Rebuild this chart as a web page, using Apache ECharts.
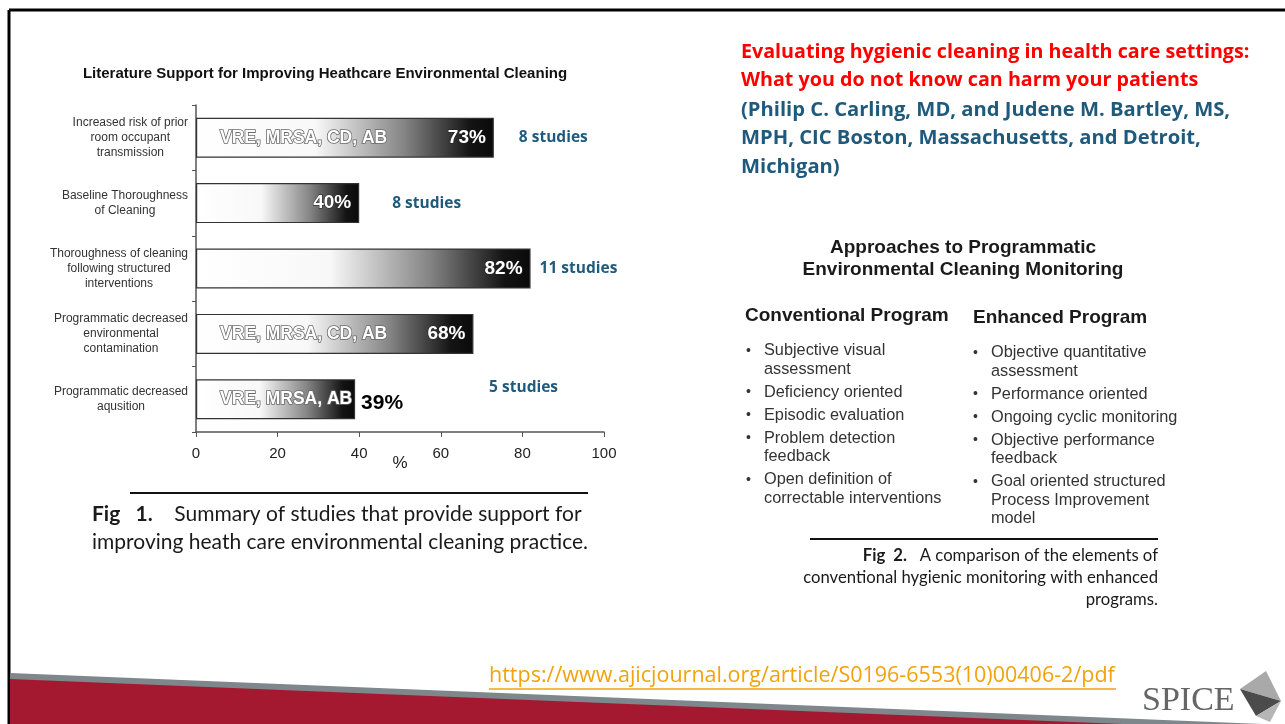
<!DOCTYPE html>
<html>
<head>
<meta charset="utf-8">
<script src="https://cdn.jsdelivr.net/npm/echarts@6/dist/echarts.min.js"></script>
<style>
  html, body { margin: 0; padding: 0; background: #fff; }
  #chart { width: 1285px; height: 724px; }
</style>
</head>
<body>
<div id="chart"></div>
<script>
// ---- chart data ----
var categories = [
    'Increased risk of prior\nroom occupant\ntransmission',
    'Baseline Thoroughness\nof Cleaning',
    'Thoroughness of cleaning\nfollowing structured\ninterventions',
    'Programmatic decreased\nenvironmental\ncontamination',
    'Programmatic decreased\naqusition'
];
var percentValues = [73, 40, 82, 68, 39];
var organisms = ['VRE, MRSA, CD, AB', '', '', 'VRE, MRSA, CD, AB', 'VRE, MRSA, AB'];
var studyCounts = [8, 8, 11, null, 5];
var xTickLabels = [0, 20, 40, 60, 80, 100];

// ---- slide texts ----
var paperTitle = ['Evaluating hygienic cleaning in health care settings:', 'What you do not know can harm your patients'];
var paperAuthors = ['(Philip C. Carling, MD, and Judene M. Bartley, MS,', 'MPH, CIC Boston, Massachusetts, and Detroit,', 'Michigan)'];
var conventionalItems = ['Subjective visual\nassessment', 'Deficiency oriented', 'Episodic evaluation',
    'Problem detection\nfeedback', 'Open definition of\ncorrectable interventions'];
var enhancedItems = ['Objective quantitative\nassessment', 'Performance oriented', 'Ongoing cyclic monitoring',
    'Objective performance\nfeedback', 'Goal oriented structured\nProcess Improvement\nmodel'];
var sourceUrl = 'https://www.ajicjournal.org/article/S0196-6553(10)00406-2/pdf';

(function() {
    "use strict";

    var ARIAL = "'Liberation Sans', Arial, sans-serif";
    var CALIBRI = "'Open Sans', sans-serif";
    var GILL = "Lato, sans-serif";
    var TEAL = '#1f5a7c';

    var chart = echarts.init(document.getElementById('chart'), null, {renderer: 'canvas'});

    // gap between bar end and the "n studies" note
    var studyGap = [25, 33, 9, 0, 134];
    var studyShift = [0, 0, 0, 0, -12];

    var barGradient = new echarts.graphic.LinearGradient(0, 0, 1, 0, [
        {offset: 0, color: '#ffffff'},
        {offset: 0.4, color: '#f8f8f8'},
        {offset: 0.7, color: '#848484'},
        {offset: 0.92, color: '#141414'},
        {offset: 1, color: '#0a0a0a'}
    ]);

    // ---- graphic: frame, texts, footer ----
    var graphics = [];

    // slide frame
    graphics.push({type: 'line', shape: {x1: 9, y1: 10, x2: 1285, y2: 10}, style: {stroke: '#000', lineWidth: 3}});
    graphics.push({type: 'line', shape: {x1: 9, y1: 10, x2: 9, y2: 724}, style: {stroke: '#000', lineWidth: 3}});

    // footer bands
    graphics.push({type: 'polygon', shape: {points: [[10, 673], [1262, 724], [10, 724]]}, style: {fill: '#7d878c'}});
    graphics.push({type: 'polygon', shape: {points: [[10, 679], [1122, 724], [10, 724]]}, style: {fill: '#a51930'}});

    // paper reference (top right)
    paperTitle.forEach(function(t, i) {
        graphics.push({type: 'text', x: 741, y: 52 + i * 28.5,
            style: {text: t, font: 'bold 19.7px ' + CALIBRI, fill: '#ff0000', textVerticalAlign: 'middle'}});
    });
    paperAuthors.forEach(function(t, i) {
        graphics.push({type: 'text', x: 741, y: 110 + i * 28.5,
            style: {text: t, font: 'bold 20.2px ' + CALIBRI, fill: TEAL, textVerticalAlign: 'middle'}});
    });

    // chart title
    graphics.push({type: 'text', x: 325, y: 74,
        style: {text: 'Literature Support for Improving Heathcare Environmental Cleaning',
            font: 'bold 15px ' + ARIAL, fill: '#111', textAlign: 'center', textVerticalAlign: 'middle'}});

    // Fig 1 caption
    graphics.push({type: 'line', shape: {x1: 130, y1: 493, x2: 588, y2: 493}, style: {stroke: '#111', lineWidth: 2}});
    graphics.push({type: 'text', x: 92, y: 500,
        style: {
            text: '{b|Fig   1.}    Summary of studies that provide support for\nimproving heath care environmental cleaning practice.',
            font: '21px ' + GILL, fill: '#1a1a1a', lineHeight: 28,
            rich: {b: {font: 'bold 21px ' + GILL, fill: '#1a1a1a', lineHeight: 28}}
        }});

    // Fig 2 block
    graphics.push({type: 'text', x: 963, y: 259,
        style: {text: 'Approaches to Programmatic\nEnvironmental Cleaning Monitoring', font: 'bold 19px ' + ARIAL,
            fill: '#1a1a1a', textAlign: 'center', textVerticalAlign: 'middle', lineHeight: 22}});
    graphics.push({type: 'text', x: 745, y: 316,
        style: {text: 'Conventional Program', font: 'bold 19px ' + ARIAL, fill: '#1a1a1a', textVerticalAlign: 'middle'}});
    graphics.push({type: 'text', x: 973, y: 318,
        style: {text: 'Enhanced Program', font: 'bold 19px ' + ARIAL, fill: '#1a1a1a', textVerticalAlign: 'middle'}});

    function bulletList(items, xBullet, xText, yStart) {
        var y = yStart;
        items.forEach(function(t) {
            graphics.push({type: 'text', x: xBullet, y: y,
                style: {text: '\u2022', font: '14px ' + ARIAL, fill: '#333', textVerticalAlign: 'middle'}});
            graphics.push({type: 'text', x: xText, y: y - 9.25,
                style: {text: t, font: '16.3px ' + ARIAL, fill: '#333', lineHeight: 18.5}});
            y += (t.split('\n').length - 1) * 18.5 + 23;
        });
    }
    bulletList(conventionalItems, 746, 764, 351);
    bulletList(enhancedItems, 973, 991, 353);

    graphics.push({type: 'line', shape: {x1: 810, y1: 539, x2: 1158, y2: 539}, style: {stroke: '#111', lineWidth: 2}});
    graphics.push({type: 'text', x: 1158, y: 545,
        style: {
            text: '{b|Fig  2.}   A comparison of the elements of\nconventional hygienic monitoring with enhanced\nprograms.',
            font: '16.7px ' + GILL, fill: '#1a1a1a', lineHeight: 22, textAlign: 'right',
            rich: {b: {font: 'bold 16.7px ' + GILL, fill: '#1a1a1a', lineHeight: 22}}
        }});

    // source link
    graphics.push({type: 'text', x: 489, y: 676,
        style: {text: sourceUrl, font: '21.5px ' + CALIBRI, fill: '#f2a20c', textVerticalAlign: 'middle'}});
    graphics.push({type: 'line', shape: {x1: 489, y1: 689, x2: 1116, y2: 689}, style: {stroke: '#f2a20c', lineWidth: 1.5}});

    // SPICE logo
    graphics.push({type: 'text', x: 1142, y: 701,
        style: {text: 'SPICE', font: '34px "Liberation Serif", serif', fill: '#666', textVerticalAlign: 'middle'}});
    graphics.push({type: 'polygon', shape: {points: [[1266, 671], [1281, 701], [1240, 689]]}, style: {fill: '#a9a9a9'}});
    graphics.push({type: 'polygon', shape: {points: [[1240, 689], [1281, 701], [1256, 716]]}, style: {fill: '#4b4b4b'}});
    graphics.push({type: 'polygon', shape: {points: [[1256, 716], [1281, 701], [1270, 722]]}, style: {fill: '#b5b5b5'}});

    var option = {
        backgroundColor: '#ffffff',
        animation: false,
        grid: {left: 196, top: 105, width: 408, height: 327, outerBoundsMode: 'none'},
        xAxis: {
            type: 'value',
            min: 0,
            max: 100,
            interval: 20,
            name: '%',
            nameLocation: 'middle',
            nameGap: 23,
            nameMoveOverlap: false,
            nameTextStyle: {fontFamily: ARIAL, fontSize: 17, color: '#222'},
            axisLine: {show: true, lineStyle: {color: '#555', width: 1.5}},
            axisTick: {show: true, length: 5, lineStyle: {color: '#555'}},
            splitLine: {show: false},
            axisLabel: {
                margin: 14, fontFamily: ARIAL, fontSize: 15, color: '#222',
                formatter: function(v) { return xTickLabels.indexOf(v) >= 0 ? String(v) : ''; }
            }
        },
        yAxis: {
            type: 'category',
            inverse: true,
            data: categories,
            axisLine: {show: true, lineStyle: {color: '#555', width: 1.5}},
            axisTick: {show: true, length: 4, lineStyle: {color: '#555'}},
            axisLabel: {
                margin: 8,
                formatter: function(v) {
                    return v.split('\n').map(function(l) { return '{c|' + l + '}'; }).join('\n');
                },
                rich: {c: {align: 'center', fontFamily: ARIAL, fontSize: 12, color: '#333', lineHeight: 15}}
            }
        },
        series: [
            {
                name: 'Percent',
                type: 'bar',
                barWidth: 40,
                barGap: '-100%',
                data: percentValues.map(function(v, i) {
                    var item = {value: v};
                    if (i === 4) {
                        item.label = {position: 'right', distance: 6, offset: [0, 4], color: '#000',
                            fontSize: 21, textBorderWidth: 0};
                    }
                    return item;
                }),
                itemStyle: {color: barGradient, borderColor: '#333', borderWidth: 1.2},
                label: {
                    show: true,
                    position: 'insideRight',
                    distance: 8,
                    formatter: '{c}%',
                    fontFamily: ARIAL,
                    fontWeight: 'bold',
                    fontSize: 19,
                    color: '#fff',
                    textBorderColor: '#222',
                    textBorderWidth: 1
                },
                z: 2
            },
            {
                name: 'Organisms',
                type: 'bar',
                barWidth: 40,
                barGap: '-100%',
                silent: true,
                data: percentValues,
                itemStyle: {color: 'rgba(0,0,0,0)'},
                label: {
                    show: true,
                    position: 'insideLeft',
                    distance: 24,
                    formatter: function(p) { return organisms[p.dataIndex]; },
                    fontFamily: ARIAL,
                    fontWeight: 'bold',
                    fontSize: 17.5,
                    color: '#fff',
                    textBorderColor: '#6a6a6a',
                    textBorderWidth: 1.6
                },
                z: 3
            },
            {
                name: 'Studies',
                type: 'bar',
                barWidth: 40,
                barGap: '-100%',
                silent: true,
                data: percentValues.map(function(v, i) {
                    return {value: v, label: {distance: studyGap[i], offset: [0, studyShift[i]]}};
                }),
                itemStyle: {color: 'rgba(0,0,0,0)'},
                label: {
                    show: true,
                    position: 'right',
                    formatter: function(p) {
                        var n = studyCounts[p.dataIndex];
                        return n ? n + ' studies' : '';
                    },
                    fontFamily: CALIBRI,
                    fontWeight: 'bold',
                    fontSize: 15.5,
                    color: TEAL
                },
                z: 3
            }
        ],
        graphic: graphics
    };

    chart.setOption(option);
})();
</script>
</body>
</html>
